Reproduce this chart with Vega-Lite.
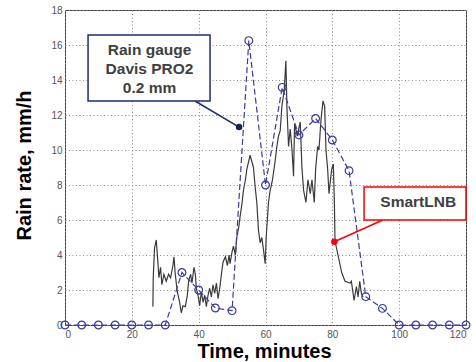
{
  "$schema": "https://vega.github.io/schema/vega-lite/v6.json",
  "width": 401,
  "height": 315,
  "autosize": "none",
  "padding": {"left": 65, "top": 10, "right": 10, "bottom": 37},
  "background": "white",
  "config": {
    "font": "Liberation Sans",
    "view": {"stroke": "#404040", "strokeWidth": 1},
    "axis": {
      "domain": false,
      "ticks": false,
      "grid": true,
      "gridColor": "#8a8a8a",
      "gridDash": [1, 2.5],
      "gridWidth": 1,
      "labelFont": "Liberation Sans",
      "labelFontSize": 10,
      "labelColor": "#555555",
      "titleFont": "Liberation Sans",
      "titleFontSize": 20,
      "titleFontWeight": "bold",
      "titleColor": "#000000"
    }
  },
  "datasets": {
    "gauge": [
      {"t": 0, "v": 0}, {"t": 5, "v": 0}, {"t": 10, "v": 0}, {"t": 15, "v": 0}, {"t": 20, "v": 0},
      {"t": 25, "v": 0}, {"t": 30, "v": 0}, {"t": 35, "v": 3.0}, {"t": 40, "v": 2.0}, {"t": 45, "v": 0.97},
      {"t": 50, "v": 0.82}, {"t": 55, "v": 16.25}, {"t": 60, "v": 8.0}, {"t": 65, "v": 13.58}, {"t": 70, "v": 10.86},
      {"t": 75, "v": 11.8}, {"t": 80, "v": 10.57}, {"t": 85, "v": 8.82}, {"t": 90, "v": 1.62}, {"t": 95, "v": 0.95},
      {"t": 100, "v": 0}, {"t": 105, "v": 0}, {"t": 110, "v": 0}, {"t": 115, "v": 0}, {"t": 120, "v": 0}
    ],
    "lnb": [
      {"t": 26.3, "v": 1.05}, {"t": 26.4, "v": 2.7}, {"t": 26.8, "v": 4.4}, {"t": 27.3, "v": 4.86}, {"t": 27.8, "v": 3.6},
      {"t": 28.1, "v": 2.7}, {"t": 28.6, "v": 3.3}, {"t": 29.0, "v": 2.3}, {"t": 29.6, "v": 2.9}, {"t": 30.3, "v": 2.5},
      {"t": 31.0, "v": 2.9}, {"t": 31.6, "v": 2.7}, {"t": 32.3, "v": 3.4}, {"t": 32.6, "v": 3.9}, {"t": 33.0, "v": 2.9},
      {"t": 33.6, "v": 1.9}, {"t": 34.3, "v": 1.3}, {"t": 34.8, "v": 0.7}, {"t": 35.3, "v": 1.1}, {"t": 36.0, "v": 1.05},
      {"t": 36.6, "v": 1.7}, {"t": 37.0, "v": 2.5}, {"t": 37.6, "v": 2.9}, {"t": 38.0, "v": 2.4}, {"t": 38.6, "v": 3.3},
      {"t": 39.0, "v": 2.9}, {"t": 39.3, "v": 2.1}, {"t": 39.8, "v": 1.7}, {"t": 40.3, "v": 1.1}, {"t": 40.8, "v": 1.9},
      {"t": 41.3, "v": 1.3}, {"t": 41.8, "v": 1.7}, {"t": 42.3, "v": 1.05}, {"t": 42.8, "v": 1.7}, {"t": 43.3, "v": 2.1},
      {"t": 43.8, "v": 1.6}, {"t": 44.3, "v": 2.3}, {"t": 44.8, "v": 1.8}, {"t": 45.3, "v": 2.4}, {"t": 45.8, "v": 1.5},
      {"t": 46.3, "v": 2.1}, {"t": 46.8, "v": 2.9}, {"t": 47.3, "v": 3.6}, {"t": 48.0, "v": 3.9}, {"t": 48.6, "v": 3.4},
      {"t": 49.1, "v": 4.0}, {"t": 49.4, "v": 3.5}, {"t": 50.0, "v": 4.2}, {"t": 50.4, "v": 4.5}, {"t": 51.0, "v": 4.0},
      {"t": 51.4, "v": 5.0}, {"t": 52.0, "v": 5.6}, {"t": 52.4, "v": 6.2}, {"t": 53.0, "v": 7.0}, {"t": 53.4, "v": 7.7},
      {"t": 54.0, "v": 8.3}, {"t": 54.4, "v": 8.9}, {"t": 55.4, "v": 9.7}, {"t": 56.4, "v": 9.0}, {"t": 56.9, "v": 7.9},
      {"t": 57.4, "v": 7.0}, {"t": 57.9, "v": 5.4}, {"t": 58.4, "v": 4.7}, {"t": 58.9, "v": 5.0}, {"t": 59.4, "v": 4.3},
      {"t": 59.9, "v": 3.5}, {"t": 60.2, "v": 5.0}, {"t": 60.9, "v": 7.0}, {"t": 61.4, "v": 7.7}, {"t": 62.0, "v": 8.2},
      {"t": 62.4, "v": 8.7}, {"t": 62.9, "v": 9.4}, {"t": 63.4, "v": 10.2}, {"t": 63.9, "v": 10.8}, {"t": 64.4, "v": 11.1},
      {"t": 64.9, "v": 12.5}, {"t": 65.6, "v": 13.4}, {"t": 66.1, "v": 15.1}, {"t": 66.4, "v": 12.5}, {"t": 66.9, "v": 10.2},
      {"t": 67.4, "v": 11.2}, {"t": 67.9, "v": 10.1}, {"t": 68.4, "v": 8.5}, {"t": 68.7, "v": 11.5}, {"t": 69.5, "v": 10.8},
      {"t": 70.4, "v": 11.6}, {"t": 70.9, "v": 9.0}, {"t": 71.4, "v": 7.7}, {"t": 72.1, "v": 7.0}, {"t": 72.7, "v": 8.3},
      {"t": 73.4, "v": 7.5}, {"t": 73.9, "v": 8.3}, {"t": 74.6, "v": 7.0}, {"t": 75.0, "v": 8.9}, {"t": 75.6, "v": 10.2},
      {"t": 76.0, "v": 10.0}, {"t": 76.6, "v": 11.7}, {"t": 77.2, "v": 12.8}, {"t": 77.7, "v": 12.5}, {"t": 78.1, "v": 10.0},
      {"t": 78.6, "v": 8.9}, {"t": 79.0, "v": 7.5}, {"t": 79.8, "v": 8.9}, {"t": 80.3, "v": 9.2}, {"t": 80.6, "v": 7.1},
      {"t": 80.8, "v": 4.8}, {"t": 81.8, "v": 3.9}, {"t": 82.8, "v": 3.0}, {"t": 83.8, "v": 2.5}, {"t": 85.3, "v": 2.4},
      {"t": 85.7, "v": 2.5}, {"t": 86.5, "v": 1.4}, {"t": 87.2, "v": 2.2}, {"t": 87.7, "v": 1.6}, {"t": 88.2, "v": 2.5},
      {"t": 88.7, "v": 1.8}, {"t": 89.2, "v": 1.6}
    ],
    "box_gauge": [{"t1": 6.9, "t2": 43.4, "v1": 16.57, "v2": 12.8}],
    "box_lnb": [{"t1": 89.5, "t2": 120, "v1": 7.89, "v2": 6.0}],
    "label_gauge": [
      {"t": 25.3, "v": 15.43, "text": "Rain gauge"},
      {"t": 25.3, "v": 14.34, "text": "Davis PRO2"},
      {"t": 25.3, "v": 13.27, "text": "0.2 mm"}
    ],
    "label_lnb": [{"t": 105.7, "v": 6.73, "text": "SmartLNB"}],
    "lead_gauge": [{"t1": 38.9, "v1": 12.8, "t2": 52.1, "v2": 11.31}],
    "lead_lnb": [{"t1": 95.1, "v1": 6.0, "t2": 80.6, "v2": 4.76}]
  },
  "encoding": {
    "x": {
      "field": "t", "type": "quantitative",
      "scale": {"domain": [0, 120], "nice": false},
      "axis": {"values": [0, 20, 40, 60, 80, 100, 120], "title": "Time, minutes", "labelPadding": 4,
               "titleX": 199, "titleY": 32, "titleBaseline": "alphabetic", "titleAnchor": null}
    },
    "y": {
      "field": "v", "type": "quantitative",
      "scale": {"domain": [0, 18], "nice": false},
      "axis": {"values": [0, 2, 4, 6, 8, 10, 12, 14, 16, 18], "title": "Rain rate, mm/h", "labelPadding": 3,
               "titleX": -35, "titleY": 155, "titleAngle": -90, "titleAlign": "center", "titleBaseline": "alphabetic"}
    }
  },
  "layer": [
    {
      "data": {"name": "lnb"},
      "mark": {"type": "line", "color": "#3a3a3a", "strokeWidth": 1.2, "interpolate": "linear"}
    },
    {
      "data": {"name": "gauge"},
      "mark": {"type": "line", "color": "#3a3aa0", "strokeWidth": 1.2, "strokeDash": [6, 3]}
    },
    {
      "data": {"name": "gauge"},
      "mark": {"type": "point", "shape": "circle", "filled": false, "color": "#3a3aa0", "size": 60, "strokeWidth": 1.2, "opacity": 1}
    },
    {
      "data": {"name": "lead_gauge"},
      "mark": {"type": "rule", "color": "#1c2f6e", "strokeWidth": 1.5},
      "encoding": {"x": {"field": "t1", "type": "quantitative"}, "y": {"field": "v1", "type": "quantitative"},
                   "x2": {"field": "t2"}, "y2": {"field": "v2"}}
    },
    {
      "data": {"name": "lead_gauge"},
      "mark": {"type": "point", "shape": "circle", "filled": true, "color": "#0f2460", "size": 42, "opacity": 1},
      "encoding": {"x": {"field": "t2", "type": "quantitative"}, "y": {"field": "v2", "type": "quantitative"}}
    },
    {
      "data": {"name": "lead_lnb"},
      "mark": {"type": "rule", "color": "#ff0000", "strokeWidth": 1.5},
      "encoding": {"x": {"field": "t1", "type": "quantitative"}, "y": {"field": "v1", "type": "quantitative"},
                   "x2": {"field": "t2"}, "y2": {"field": "v2"}}
    },
    {
      "data": {"name": "lead_lnb"},
      "mark": {"type": "point", "shape": "circle", "filled": true, "color": "#ff0000", "size": 42, "opacity": 1},
      "encoding": {"x": {"field": "t2", "type": "quantitative"}, "y": {"field": "v2", "type": "quantitative"}}
    },
    {
      "data": {"name": "box_gauge"},
      "mark": {"type": "rect", "fill": "white", "stroke": "#1c2f6e", "strokeWidth": 1.5},
      "encoding": {"x": {"field": "t1", "type": "quantitative"}, "x2": {"field": "t2"},
                   "y": {"field": "v1", "type": "quantitative"}, "y2": {"field": "v2"}}
    },
    {
      "data": {"name": "box_lnb"},
      "mark": {"type": "rect", "fill": "white", "stroke": "#ff0000", "strokeWidth": 1.5},
      "encoding": {"x": {"field": "t1", "type": "quantitative"}, "x2": {"field": "t2"},
                   "y": {"field": "v1", "type": "quantitative"}, "y2": {"field": "v2"}}
    },
    {
      "data": {"name": "label_gauge"},
      "mark": {"type": "text", "font": "Liberation Sans", "fontSize": 15.5, "fontWeight": "bold", "color": "#404040", "align": "center", "baseline": "alphabetic"},
      "encoding": {"text": {"field": "text"}}
    },
    {
      "data": {"name": "label_lnb"},
      "mark": {"type": "text", "font": "Liberation Sans", "fontSize": 15.5, "fontWeight": "bold", "color": "#404040", "align": "center", "baseline": "alphabetic"},
      "encoding": {"text": {"field": "text"}}
    }
  ]
}
